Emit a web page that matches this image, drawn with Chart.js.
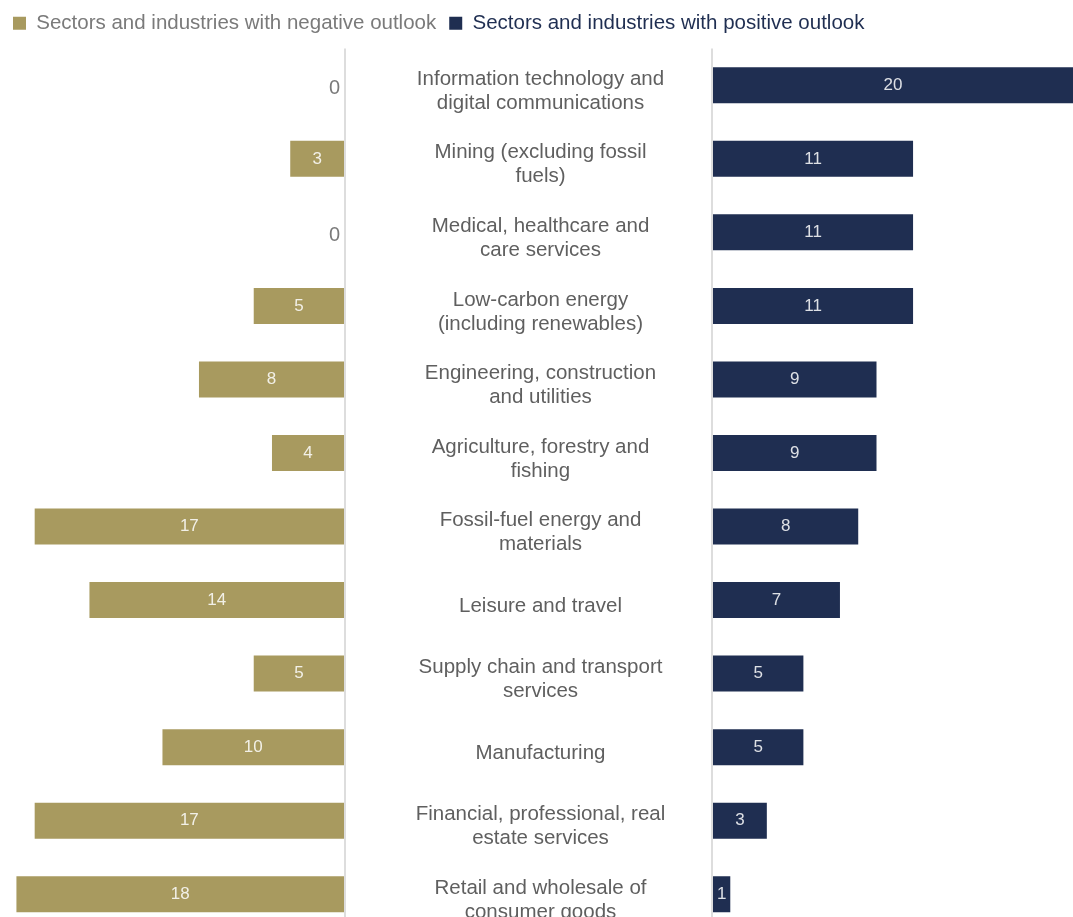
<!DOCTYPE html>
<html>
<head>
<meta charset="utf-8">
<script src="https://cdn.jsdelivr.net/npm/chart.js@4"></script>
<style>
  body { margin: 0; overflow: hidden; background: #fff; }
  #wrap { width: 1073px; height: 931px; }
</style>
</head>
<body>
<div id="wrap"><canvas id="myChart"></canvas></div>
<script>
// sector names, one array per label (already split in lines)
const sectors = [
  ['Information technology and', 'digital communications'],
  ['Mining (excluding fossil', 'fuels)'],
  ['Medical, healthcare and', 'care services'],
  ['Low-carbon energy', '(including renewables)'],
  ['Engineering, construction', 'and utilities'],
  ['Agriculture, forestry and', 'fishing'],
  ['Fossil-fuel energy and', 'materials'],
  ['Leisure and travel'],
  ['Supply chain and transport', 'services'],
  ['Manufacturing'],
  ['Financial, professional, real', 'estate services'],
  ['Retail and wholesale of', 'consumer goods']
];
const negative = [0, 3, 0, 5, 8, 4, 17, 14, 5, 10, 17, 18];
const positive = [20, 11, 11, 11, 9, 9, 8, 7, 5, 5, 3, 1];

const FONT = '"Liberation Sans", Arial, sans-serif';

// values on the bars + sector names in the middle gap
const barText = {
  id: 'barText',
  afterDatasetsDraw(chart) {
    const ctx = chart.ctx;
    ctx.save();
    ctx.textBaseline = 'middle';
    chart.data.datasets.forEach((ds, i) => {
      chart.getDatasetMeta(i).data.forEach((bar, j) => {
        const v = ds.data[j];
        if (v === 0) {
          ctx.font = '20px ' + FONT;
          ctx.fillStyle = '#7a7a7a';
          ctx.textAlign = 'right';
          ctx.fillText('0', bar.base - 5, bar.y + 3);
        } else {
          ctx.font = '17px ' + FONT;
          ctx.fillStyle = 'rgba(255,255,255,0.85)';
          ctx.textAlign = 'center';
          const right = Math.min(bar.x, chart.chartArea.right);
          ctx.fillText(String(v), (right + bar.base) / 2, bar.y);
        }
      });
    });
    const xm = chart.scales.xm;
    const cx = (xm.left + xm.right) / 2 + 12;
    ctx.font = '20.5px ' + FONT;
    ctx.fillStyle = '#5f5f5f';
    ctx.textAlign = 'center';
    sectors.forEach((lines, j) => {
      const y = chart.scales.y.getPixelForValue(j) + 6;
      const top = y - (lines.length - 1) * 24 / 2;
      lines.forEach((t, k) => ctx.fillText(t, cx, top + k * 24));
    });
    ctx.restore();
  }
};

// a bit more room under the legend
const legendGap = {
  id: 'legendGap',
  beforeInit(chart) {
    const fit = chart.legend.fit;
    chart.legend.fit = function () {
      fit.bind(chart.legend)();
      this.height += 5;
    };
  }
};

const zeroLine = c => c.tick.value === 0 ? '#dddddd' : 'rgba(0,0,0,0)';

const ctx = document.getElementById('myChart').getContext('2d');
const myChart = new Chart(ctx, {
  type: 'bar',
  data: {
    labels: sectors,
    datasets: [
      {
        label: 'Sectors and industries with negative outlook',
        data: negative,
        xAxisID: 'xl',
        backgroundColor: '#a89a5f',
        borderWidth: 0,
        grouped: false,
        barPercentage: 0.49,
        categoryPercentage: 1
      },
      {
        label: 'Sectors and industries with positive outlook',
        data: positive,
        xAxisID: 'xr',
        backgroundColor: '#1f2e51',
        borderWidth: 0,
        grouped: false,
        barPercentage: 0.49,
        categoryPercentage: 1
      }
    ]
  },
  options: {
    indexAxis: 'y',
    responsive: true,
    maintainAspectRatio: false,
    animation: false,
    layout: { padding: 0 },
    plugins: {
      tooltip: { enabled: false },
      legend: {
        position: 'top',
        align: 'start',
        labels: {
          boxWidth: 13,
          boxHeight: 13,
          padding: 13,
          font: { family: FONT, size: 20.5 },
          generateLabels(chart) {
            const items = Chart.defaults.plugins.legend.labels.generateLabels(chart);
            const cols = ['#7a7a7a', '#1f2e51'];
            items.forEach((it, i) => { it.fontColor = cols[i]; it.lineWidth = 0; });
            return items;
          }
        }
      }
    },
    scales: {
      y: { display: false, grid: { display: false } },
      xl: {
        type: 'linear', position: 'bottom', stack: 'row', stackWeight: 345,
        reverse: true, min: 0, max: 18.9,
        ticks: { display: false },
        border: { display: false },
        grid: { drawTicks: false, color: zeroLine, lineWidth: 2 }
      },
      xm: {
        type: 'linear', position: 'bottom', stack: 'row', stackWeight: 367,
        display: false
      },
      xr: {
        type: 'linear', position: 'bottom', stack: 'row', stackWeight: 361,
        min: 0, max: 19.75,
        ticks: { display: false },
        border: { display: false },
        grid: { drawTicks: false, color: zeroLine, lineWidth: 2 }
      }
    }
  },
  plugins: [barText, legendGap]
});
</script>
</body>
</html>
